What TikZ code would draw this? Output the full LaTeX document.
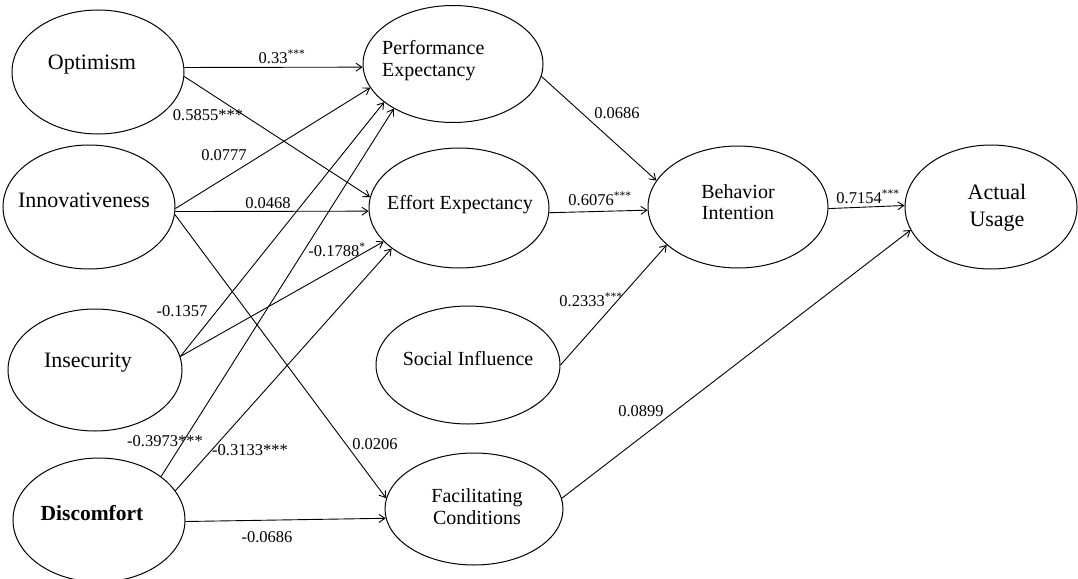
\documentclass[tikz,border=0pt]{standalone}
\usepackage{fontspec}
\setmainfont{Liberation Serif}
\usetikzlibrary{shapes.geometric,arrows.meta}
\begin{document}
\begin{tikzpicture}[x=1pt,y=-1pt,
 el/.style 2 args={ellipse,draw,line width=1pt,inner sep=0pt,minimum width=#1,minimum height=#2},
 big/.style={font=\fontsize{22}{24}\selectfont, inner sep=0pt},
 mid/.style={font=\fontsize{20}{22}\selectfont, inner sep=0pt},
 lab/.style={font=\fontsize{16.5}{18}\selectfont, inner sep=0pt},
 arr/.style={-{Straight Barb[length=6pt,width=8pt]}, line width=0.9pt}]
\useasboundingbox (0,0) rectangle (1078,578);
\fill[white] (0,0) rectangle (1078,578);

% ellipses
\node[el={172pt}{124pt}] (opt) at (98,72) {};
\node[el={172pt}{124pt}] (inn) at (89,207) {};
\node[el={174pt}{122pt}] (ins) at (95,370) {};
\node[el={172pt}{124pt}] (dis) at (99,520) {};
\node[el={180pt}{117pt}] (pe) at (453,64) {};
\node[el={180pt}{120pt}] (ee) at (459,208) {};
\node[el={184pt}{118pt}] (si) at (468,365) {};
\node[el={178pt}{112pt}] (fc) at (474,509) {};
\node[el={180pt}{122pt}] (bi) at (738,207) {};
\node[el={172pt}{124pt}] (au) at (991,207) {};

% texts
\node[big] (optT) at (92,65) {Optimism};
\node[big] (innT) at (84,200) {Innovativeness};
\node[big] (insT) at (88,363) {Insecurity};
\node[big,font=\fontsize{21.5}{24}\selectfont\bfseries] (disT) at (92,513) {Discomfort};
\node[mid,align=left,anchor=west,font=\fontsize{20}{22}\selectfont] (peT) at (382,61) {Performance\\Expectancy};
\node[mid] (eeT) at (460,205) {Effort Expectancy};
\node[mid] (siT) at (468,359) {Social Influence};
\node[mid,align=center,font=\fontsize{20}{22}\selectfont] (fcT) at (477,507) {Facilitating\\Conditions};
\node[mid,align=center,font=\fontsize{20}{21}\selectfont] (biT) at (738,202.5) {Behavior\\Intention};
\node[big,align=center,font=\fontsize{22}{27}\selectfont] (auT) at (997,207.5) {Actual\\Usage};

% connectors
\draw[arr] (opt.3) -- (pe.182);
\draw[arr] (opt.-3) -- (ee.173);
\draw[arr] (inn.-1) -- (pe.196);
\draw[arr] (inn.-3) -- (ee.182);
\draw[arr] (inn.-5) -- (fc.173);
\draw[arr] (ins.9) -- (pe.209);
\draw[arr] (ins.9) -- (ee.204);
\draw[arr] (dis.35) -- (pe.217);
\draw[arr] (dis.21) -- (ee.211);
\draw[arr] (dis.-1) -- (fc.186);
\draw[arr] (pe.-8) -- (bi.162);
\draw[arr] (ee.-3) -- (bi.182);
\draw[arr] (si.0) -- (bi.208);
\draw[arr] (bi.-1) -- (au.179);
\draw[arr] (fc.7) -- (au.196);

% labels
\node[lab] (l1) at (282,57) {0.33\textsuperscript{***}};
\node[lab] (l2) at (208,115) {0.5855***};
\node[lab] (l3) at (224,155) {0.0777};
\node[lab] (l4) at (268,203) {0.0468};
\node[lab] (l5) at (337,250) {-0.1788\textsuperscript{*}};
\node[lab] (l6) at (182,311) {-0.1357};
\node[lab] (l7) at (165,441) {-0.3973***};
\node[lab] (l8) at (250,450) {-0.3133***};
\node[lab] (l9) at (375,444) {0.0206};
\node[lab] (l10) at (267,537) {-0.0686};
\node[lab] (l11) at (617,113) {0.0686};
\node[lab] (l12) at (600,199) {0.6076\textsuperscript{***}};
\node[lab] (l13) at (591,300) {0.2333\textsuperscript{***}};
\node[lab] (l14) at (868,197) {0.7154\textsuperscript{***}};
\node[lab] (l15) at (641,411) {0.0899};
\end{tikzpicture}
\end{document}
